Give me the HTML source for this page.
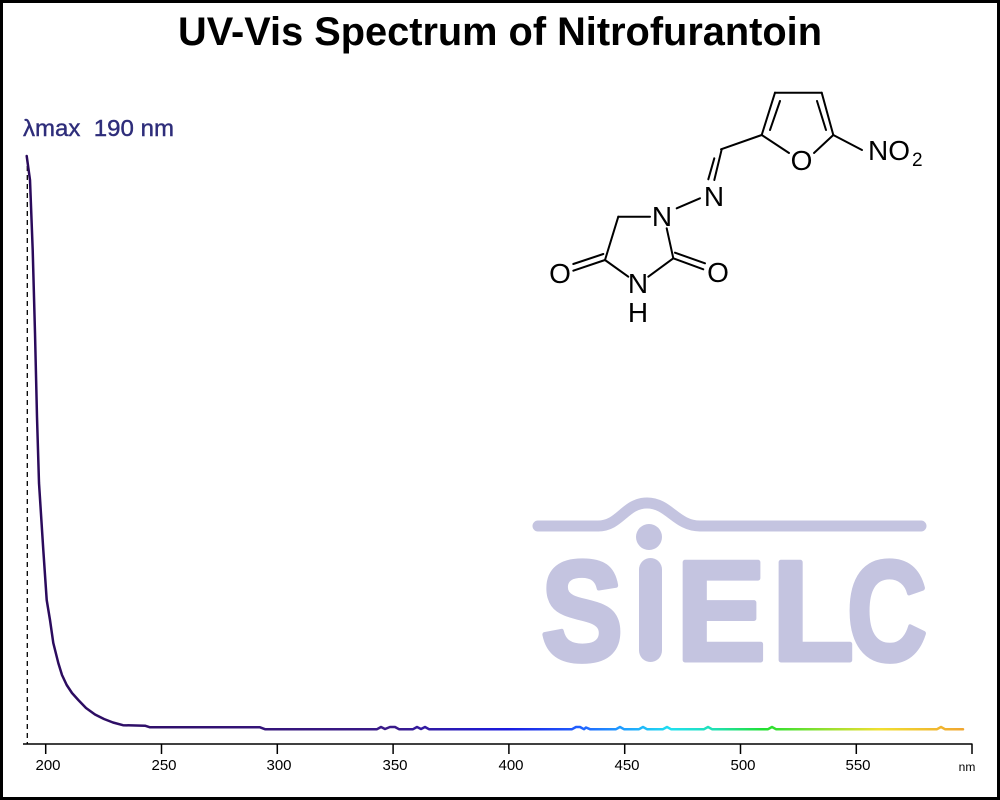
<!DOCTYPE html>
<html>
<head>
<meta charset="utf-8">
<style>
html,body{margin:0;padding:0;background:#fff;}
#wrap{position:relative;width:1000px;height:800px;box-sizing:border-box;border:3px solid #000;background:#fff;overflow:hidden;}
svg{position:absolute;left:-3px;top:-3px;}
</style>
</head>
<body>
<div id="wrap">
<svg width="1000" height="800" viewBox="0 0 1000 800" xmlns="http://www.w3.org/2000/svg">
  <defs>
    <linearGradient id="spec" gradientUnits="userSpaceOnUse" x1="24" y1="0" x2="972" y2="0">
      <stop offset="0" stop-color="#2a0a5a"/>
      <stop offset="0.39" stop-color="#3a1a8a"/>
      <stop offset="0.51" stop-color="#1a1ae0"/>
      <stop offset="0.585" stop-color="#2060ff"/>
      <stop offset="0.633" stop-color="#20a0ff"/>
      <stop offset="0.682" stop-color="#20e0f0"/>
      <stop offset="0.731" stop-color="#20e0b0"/>
      <stop offset="0.78" stop-color="#20e030"/>
      <stop offset="0.853" stop-color="#a0e030"/>
      <stop offset="0.902" stop-color="#f0e030"/>
      <stop offset="0.951" stop-color="#f0c030"/>
      <stop offset="1" stop-color="#f0a030"/>
    </linearGradient>
  </defs>

  <!-- Title -->
  <text x="500" y="45" text-anchor="middle" font-family="'Liberation Sans', Arial, sans-serif" font-weight="bold" font-size="40" textLength="644" lengthAdjust="spacingAndGlyphs" fill="#000">UV-Vis Spectrum of Nitrofurantoin</text>

  <!-- lambda max label -->
  <text x="23" y="136" font-family="'Liberation Sans', Arial, sans-serif" font-size="23" textLength="151" lengthAdjust="spacingAndGlyphs" fill="#2e2d7a" stroke="#2e2d7a" stroke-width="0.4" xml:space="preserve">λmax  190 nm</text>

  <!-- SIELC logo -->
  <g fill="#c4c4e0">
    <path d="M538,526 L598,526 C620,526 625,503 647,503 C669,503 676,526 700,526 L921,526" fill="none" stroke="#c4c4e0" stroke-width="11" stroke-linecap="round"/>
    <circle cx="649" cy="537" r="13"/>
    <rect x="639" y="558" width="23" height="104" rx="11.5" ry="11.5"/>
    <g stroke="#c4c4e0" stroke-width="5" stroke-linejoin="round" font-family="'Liberation Sans', Arial, sans-serif" font-weight="bold" font-size="142" text-anchor="middle">
      <text x="582" y="660" textLength="82" lengthAdjust="spacingAndGlyphs">S</text>
      <text x="721" y="660" textLength="90" lengthAdjust="spacingAndGlyphs">E</text>
      <text x="813" y="660" textLength="82" lengthAdjust="spacingAndGlyphs">L</text>
      <text x="887" y="660" textLength="80" lengthAdjust="spacingAndGlyphs">C</text>
    </g>
  </g>

  <!-- Molecule -->
  <g stroke="#000" stroke-width="2" fill="none" stroke-linecap="round">
    <line x1="761.7" y1="135" x2="775" y2="92.7"/>
    <line x1="770" y1="130" x2="780" y2="101"/>
    <line x1="775" y1="92.7" x2="821.7" y2="92.7"/>
    <line x1="821.7" y1="92.7" x2="833.3" y2="135"/>
    <line x1="817" y1="101" x2="826" y2="130"/>
    <line x1="761.7" y1="135" x2="789" y2="153"/>
    <line x1="833.3" y1="135" x2="814" y2="153"/>
    <line x1="833.3" y1="135" x2="862" y2="150"/>
    <line x1="761.7" y1="135" x2="721" y2="149.3"/>
    <line x1="721.7" y1="149.3" x2="714.3" y2="180"/>
    <line x1="714.3" y1="158.3" x2="708.3" y2="179.3"/>
    <line x1="700" y1="198.3" x2="676.7" y2="208.3"/>
    <line x1="650" y1="216.7" x2="618.3" y2="216.7"/>
    <line x1="618.3" y1="216.7" x2="605" y2="260"/>
    <line x1="605" y1="260" x2="628.3" y2="276.7"/>
    <line x1="648.3" y1="276.7" x2="673.3" y2="258.3"/>
    <line x1="673.3" y1="258.3" x2="666.7" y2="228.3"/>
    <line x1="673.3" y1="258.3" x2="703.3" y2="269.3"/>
    <line x1="675" y1="252.7" x2="705" y2="263.3"/>
    <line x1="605" y1="260" x2="573.3" y2="270.7"/>
    <line x1="603.3" y1="254" x2="573.3" y2="264"/>
  </g>
  <g font-family="'Liberation Sans', Arial, sans-serif" font-size="28" fill="#000" text-anchor="middle">
    <text x="801.5" y="170">O</text>
    <text x="714" y="206">N</text>
    <text x="662" y="226">N</text>
    <text x="638" y="293">N</text>
    <text x="638" y="322">H</text>
    <text x="718" y="282">O</text>
    <text x="560" y="283">O</text>
    <text x="868" y="160" text-anchor="start">NO</text>
    <text x="912" y="166" text-anchor="start" font-size="19">2</text>
  </g>

  <!-- dashed lambda max line -->
  <line x1="27.3" y1="157" x2="27.3" y2="744" stroke="#000" stroke-width="1.3" stroke-dasharray="5,4"/>

  <!-- axis -->
  <g stroke="#000" stroke-width="1.5">
    <line x1="23" y1="744" x2="972.5" y2="744"/>
    <line x1="45.7" y1="744" x2="45.7" y2="754"/>
    <line x1="161.5" y1="744" x2="161.5" y2="754"/>
    <line x1="277.3" y1="744" x2="277.3" y2="754"/>
    <line x1="393.1" y1="744" x2="393.1" y2="754"/>
    <line x1="508.9" y1="744" x2="508.9" y2="754"/>
    <line x1="624.7" y1="744" x2="624.7" y2="754"/>
    <line x1="740.5" y1="744" x2="740.5" y2="754"/>
    <line x1="856.3" y1="744" x2="856.3" y2="754"/>
    <line x1="972" y1="744" x2="972" y2="754"/>
  </g>
  <g font-family="'Liberation Sans', Arial, sans-serif" font-size="15" fill="#000" text-anchor="middle">
    <text x="48" y="770">200</text>
    <text x="164" y="770">250</text>
    <text x="279" y="770">300</text>
    <text x="395" y="770">350</text>
    <text x="511" y="770">400</text>
    <text x="627" y="770">450</text>
    <text x="743" y="770">500</text>
    <text x="858" y="770">550</text>
    <text x="967" y="771" font-size="12">nm</text>
  </g>

  <!-- spectrum -->
  <path d="M26.7,156 L30,180 L32.7,250 L35,333 L37,417 L39,483 L43.3,550 L46.7,600 L50,620 L53.3,643 L58.3,663 L62,675 L66.7,685 L72,693 L78.3,700 L86,708 L95,714.5 L104,719 L113,722.5 L123,725.2 L145,725.7 L150,727.3 L260,727.3 L265,729.2 L377,729.2 L381,727 L385,729 L390,727 L395,727 L399,729.2 L413,729.2 L417,727 L421,729 L425,727 L429,729.2 L572,729.2 L576,727 L580,727 L584,729.2 L586,727.5 L590,729.2 L616,729.2 L620,727 L624,729.2 L639,729.2 L643,727 L647,729.2 L663,729.2 L667,727 L671,729.2 L704,729.2 L708,727 L712,729.2 L768,729.2 L772,727 L776,729.2 L937,729.2 L941,727 L945,729.2 L963,729.2" fill="none" stroke="url(#spec)" stroke-width="2.5" stroke-linejoin="round" stroke-linecap="round"/>
</svg>
</div>
</body>
</html>
